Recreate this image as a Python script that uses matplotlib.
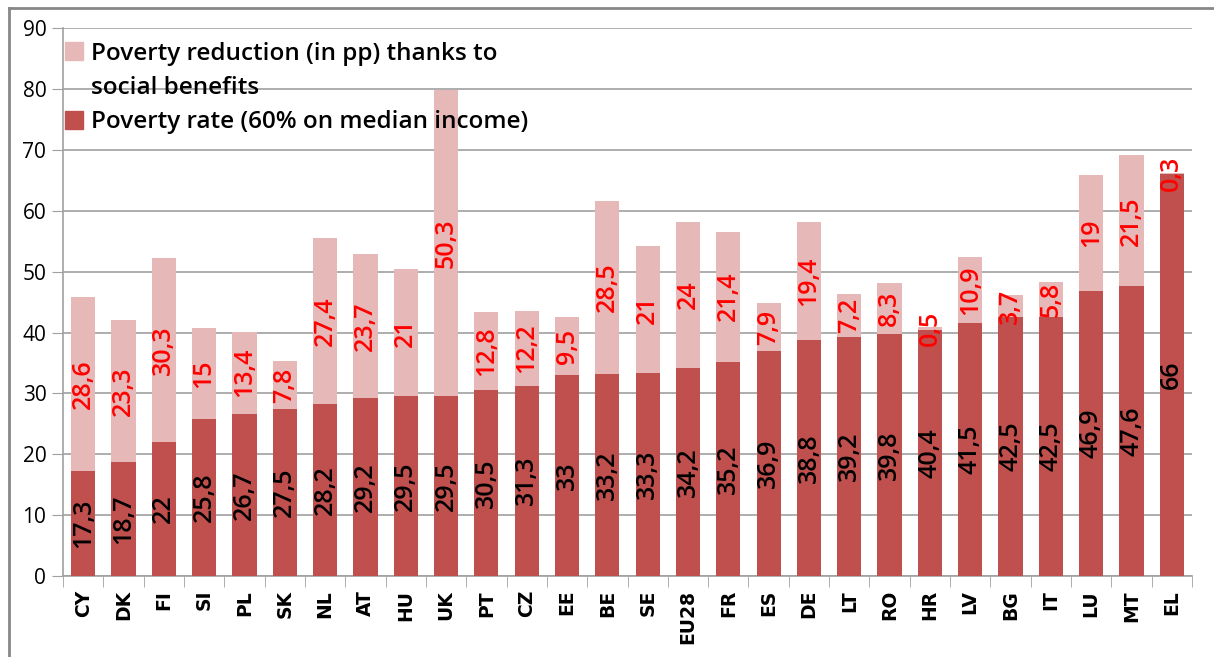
import numpy as np
import matplotlib.pyplot as plt
from matplotlib.lines import Line2D
from matplotlib.patches import Patch

countries = ['CY', 'DK', 'FI', 'SI', 'PL', 'SK', 'NL', 'AT', 'HU', 'UK', 'PT', 'CZ', 'EE', 'BE',
             'SE', 'EU28', 'FR', 'ES', 'DE', 'LT', 'RO', 'HR', 'LV', 'BG', 'IT', 'LU', 'MT', 'EL']
poverty_rate = [17.3, 18.7, 22, 25.8, 26.7, 27.5, 28.2, 29.2, 29.5, 29.5, 30.5, 31.3, 33, 33.2,
                33.3, 34.2, 35.2, 36.9, 38.8, 39.2, 39.8, 40.4, 41.5, 42.5, 42.5, 46.9, 47.6, 66]
reduction = [28.6, 23.3, 30.3, 15, 13.4, 7.8, 27.4, 23.7, 21, 50.3, 12.8, 12.2, 9.5, 28.5,
             21, 24, 21.4, 7.9, 19.4, 7.2, 8.3, 0.5, 10.9, 3.7, 5.8, 19, 21.5, 0.3]

plt.rcParams['font.family'] = ['Open Sans', 'DejaVu Sans']

def fmt(v):
    return ('%g' % v).replace('.', ',')

fig = plt.figure(figsize=(12.14, 6.57), dpi=100)
ax = fig.add_axes([63 / 1214, 1 - 576 / 657, (1192 - 63) / 1214, (576 - 28.3) / 657])

x = np.arange(len(countries))
dark = '#C0504D'
light = '#E6B9B8'
ax.bar(x, poverty_rate, width=0.6, color=dark, zorder=3)
ax.bar(x, reduction, width=0.6, bottom=poverty_rate, color=light, zorder=3)

# data labels, centred in each segment
for xi, p, r in zip(x, poverty_rate, reduction):
    ax.text(xi, p / 2, fmt(p), rotation=90, ha='center', va='center',
            fontsize=18, fontweight='semibold', color='black', zorder=4)
    ax.text(xi, p + r / 2, fmt(r), rotation=90, ha='center', va='center',
            fontsize=18, fontweight='semibold', color='red', zorder=4)

ax.set_xlim(-0.5, len(countries) - 0.5)
ax.set_ylim(0, 90)
ax.set_yticks(range(0, 91, 10))
ax.tick_params(axis='y', labelsize=15, length=8, color='#A0A0A0', pad=4)
ax.set_xticks(x)
ax.set_xticklabels(countries, rotation=90, fontsize=13.5, fontweight='bold',
                   family='DejaVu Sans')
ax.tick_params(axis='x', length=0, pad=10)
ax.set_xticks(np.arange(-0.5, len(countries)), minor=True)
ax.tick_params(axis='x', which='minor', length=8, color='#A0A0A0')

ax.grid(axis='y', color='#A0A0A0', linewidth=1.2, zorder=0)
for s in ['top', 'right']:
    ax.spines[s].set_visible(False)
for s in ['left', 'bottom']:
    ax.spines[s].set_color('#A0A0A0')
    ax.spines[s].set_linewidth(1.2)

handles = [Patch(color=light), Patch(color='none'), Patch(color=dark)]
labels = ['Poverty reduction (in pp) thanks to', 'social benefits',
          'Poverty rate (60% on median income)']
ax.legend(handles, labels, loc='upper left', bbox_to_anchor=(-0.01, 1.0), frameon=False,
          prop={'size': 17.5, 'weight': 'semibold'}, handlelength=0.75, handleheight=0.75,
          handletextpad=0.3, labelspacing=0.42, borderaxespad=0.15)

# outer chart frame (only top and left edges visible)
fig.add_artist(Line2D([9 / 1214, 9 / 1214], [0, 1 - 8 / 657], transform=fig.transFigure,
                      color='#888888', linewidth=2))
fig.add_artist(Line2D([9 / 1214, 1], [1 - 8 / 657, 1 - 8 / 657], transform=fig.transFigure,
                      color='#888888', linewidth=2))

fig.savefig('out.png', dpi=100)
